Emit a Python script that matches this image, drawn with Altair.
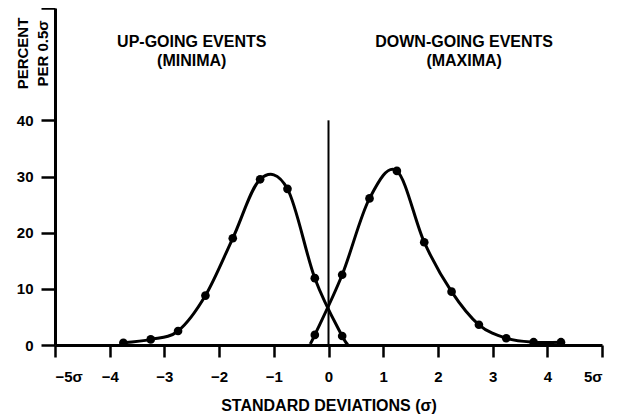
import altair as alt
import pandas as pd

# Up-going events (minima)
left_x = [-3.75, -3.25, -2.75, -2.25, -1.75, -1.25, -0.75, -0.25, 0.25]
left_y = [0.4, 1.0, 2.5, 8.8, 19.0, 29.5, 27.8, 11.9, 1.6]
left_end_x = [0.38]
left_end_y = [0.0]

# Down-going events (maxima)
right_x = [-0.25, 0.25, 0.75, 1.25, 1.75, 2.25, 2.75, 3.25, 3.75, 4.25]
right_y = [1.8, 12.5, 26.1, 31.0, 18.3, 9.5, 3.6, 1.2, 0.5, 0.5]
right_start_x = [-0.35]
right_start_y = [0.0]

# vertical reference line at zero
ref_x = [0]
ref_y = [0]
ref_y2 = [40]

# annotations
ann_text = ["UP-GOING EVENTS", "(MINIMA)", "DOWN-GOING EVENTS", "(MAXIMA)"]
ann_x = [-2.5, -2.5, 2.48, 2.48]
ann_y = [54.0, 50.6, 54.0, 50.6]

x_ticks = [-5, -4, -3, -2, -1, 0, 1, 2, 3, 4, 5]
y_ticks = [0, 10, 20, 30, 40, 60]

FONT = "Liberation Sans"

pts = pd.DataFrame({
    "x": left_x + right_x,
    "y": left_y + right_y,
    "s": ["min"] * len(left_x) + ["max"] * len(right_x),
})
lines = pd.DataFrame({
    "x": left_x + left_end_x + right_start_x + right_x,
    "y": left_y + left_end_y + right_start_y + right_y,
    "s": ["min"] * (len(left_x) + 1) + ["max"] * (len(right_x) + 1),
})
ref = pd.DataFrame({"x": ref_x, "y": ref_y, "y2": ref_y2})
ann = pd.DataFrame({"t": ann_text, "x": ann_x, "y": ann_y})

xscale = alt.Scale(domain=[-5, 5], nice=False, zero=False)
yscale = alt.Scale(domain=[0, 60], nice=False)

x_axis = alt.Axis(
    values=x_ticks,
    labelExpr="datum.value == -5 ? '\u22125\u03c3' : datum.value == 5 ? '5\u03c3' : datum.value < 0 ? '\u2212' + abs(datum.value) : '' + datum.value",
    tickSize=12, tickWidth=2.5, domainWidth=3,
    labelFont=FONT, labelFontWeight="bold", labelFontSize=15, labelPadding=12,
    title="STANDARD DEVIATIONS (\u03c3)", titleFont=FONT, titleFontWeight="bold",
    titleFontSize=16, titleY=52, titleBaseline="top", grid=False,
)
y_axis = alt.Axis(
    values=y_ticks,
    labelExpr="datum.value == 60 ? '' : '' + datum.value",
    tickSize=14, tickWidth=2.5, domainWidth=3,
    labelFont=FONT, labelFontWeight="bold", labelFontSize=15, labelPadding=8,
    title=["PERCENT", "PER 0.5\u03c3"], titleFont=FONT, titleFontWeight="bold",
    titleFontSize=15, titleAngle=270, titleX=-33, titleY=45,
    titleAlign="center", titleBaseline="middle", titleLineHeight=20, grid=False,
)

line = alt.Chart(lines).mark_line(
    color="black", strokeWidth=3, interpolate="cardinal", clip=True
).encode(
    x=alt.X("x:Q", scale=xscale, axis=x_axis),
    y=alt.Y("y:Q", scale=yscale, axis=y_axis),
    detail="s:N",
)
dots = alt.Chart(pts).mark_point(
    color="black", filled=True, opacity=1, size=75
).encode(x=alt.X("x:Q", scale=xscale), y=alt.Y("y:Q", scale=yscale))

rule = alt.Chart(ref).mark_rule(color="black", strokeWidth=2).encode(
    x=alt.X("x:Q", scale=xscale), y=alt.Y("y:Q", scale=yscale), y2="y2:Q"
)

texts = alt.Chart(ann).mark_text(
    font=FONT, fontWeight="bold", fontSize=16, color="black",
    align="center", baseline="middle"
).encode(x=alt.X("x:Q", scale=xscale), y=alt.Y("y:Q", scale=yscale), text="t:N")

chart = alt.layer(rule, line, dots, texts).properties(
    width=547, height=337,
    autosize=alt.AutoSizeParams(type="none"),
    padding={"left": 47, "top": 0, "right": 15, "bottom": 72},
    background="white",
).configure_view(stroke=None).configure_axis(
    domainColor="black", tickColor="black", labelColor="black", titleColor="black"
)

chart.save("out.html", embed_options={"renderer": "svg", "actions": False})
